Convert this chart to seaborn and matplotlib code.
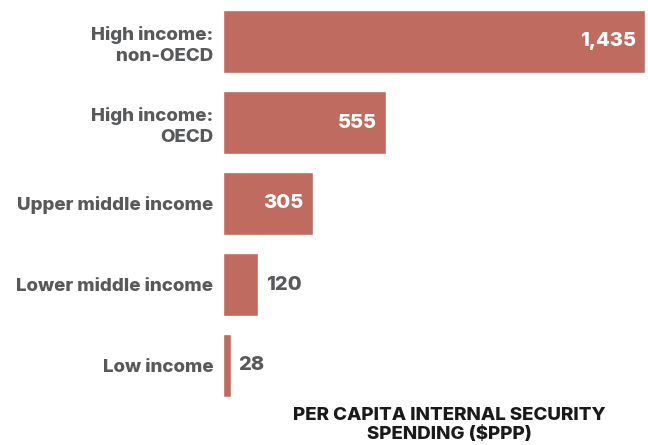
import matplotlib
matplotlib.use("Agg")
import matplotlib.pyplot as plt
import seaborn as sns
import pandas as pd

categories = ["High income:\nnon-OECD", "High income:\nOECD", "Upper middle income",
              "Lower middle income", "Low income"]
values = [1435, 555, 305, 120, 28]
value_labels = ["1,435", "555", "305", "120", "28"]
inside = [True, True, True, False, False]

sns.set_theme(style="white")
plt.rcParams['font.family'] = ['Inter', 'DejaVu Sans']

df = pd.DataFrame({"cat": categories, "val": values})
fig = plt.figure(figsize=(6.48, 4.45), dpi=100)
W, H = 648, 445
ax = fig.add_axes([223 / W, 1 - 406 / H, (645 - 223) / W, 405 / H])
sns.barplot(data=df, x="val", y="cat", color="#bf6b60", saturation=1, width=0.78, ax=ax)
ax.set_xlim(0, 1435)
ax.set_ylim(4.5, -0.5)
for s in ax.spines.values():
    s.set_visible(False)
ax.set_xticks([])
ax.set_xlabel("")
ax.set_ylabel("")
ax.tick_params(axis="y", length=0, pad=7)
for t in ax.get_yticklabels():
    t.set_fontsize(13.5)
    t.set_fontweight("heavy")
    t.set_color("#58595b")
    t.set_linespacing(1.3)
    t.set_ha("right")

for i, (v, lab, ins) in enumerate(zip(values, value_labels, inside)):
    if ins:
        ax.text(v - 32, i, lab, ha="right", va="center", color="white",
                fontsize=14.5, fontweight="heavy")
    else:
        ax.text(v + 25, i, lab, ha="left", va="center", color="#58595b",
                fontsize=14.5, fontweight="heavy")

fig.text(449 / W, 1 - 425 / H, "PER CAPITA INTERNAL SECURITY\nSPENDING ($PPP)",
         ha="center", va="center", fontsize=13.5, fontweight="heavy", color="#1a1a1a",
         linespacing=1.12)

fig.savefig("out.png", dpi=100)
